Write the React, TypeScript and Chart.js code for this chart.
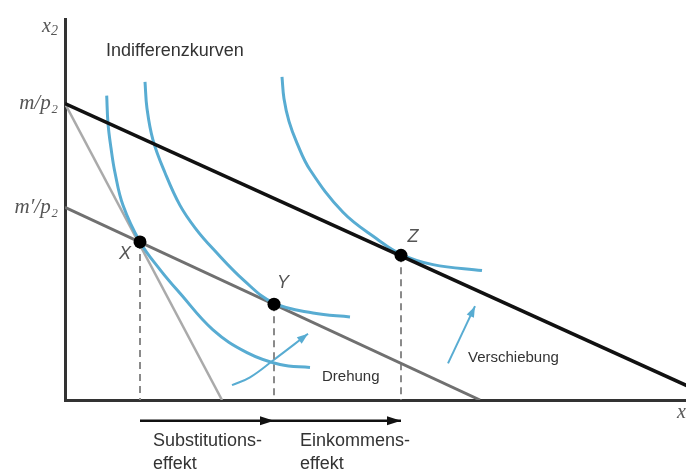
import React, { useEffect, useRef } from "react";
import { Chart, registerables } from "chart.js";

Chart.register(...registerables);

// ---------- data (quantities of good 1 on x, good 2 on y) ----------
const budgetOldX = [0, 3.14];
const budgetOldY = [6.0, 0];
const budgetNewX = [0, 13.07];
const budgetNewY = [6.0, 0];
const budgetCompX = [0, 8.3];
const budgetCompY = [3.9, 0];

const curve1X = [0.834, 0.86, 0.92, 1.0, 1.16, 1.5, 1.9, 2.3, 2.96, 3.64, 4.3, 4.9];
const curve1Y = [6.16, 5.6, 5.1, 4.6, 3.94, 3.2, 2.64, 2.16, 1.42, 0.96, 0.72, 0.66];
const curve2X = [1.6, 1.64, 1.76, 2.0, 2.3, 2.62, 2.96, 3.6, 4.18, 4.96, 5.7];
const curve2Y = [6.44, 5.9, 5.26, 4.6, 3.94, 3.46, 3.06, 2.4, 1.96, 1.76, 1.68];
const curve3X = [4.34, 4.38, 4.48, 4.64, 4.9, 5.56, 6.24, 6.72, 7.36, 8.34];
const curve3Y = [6.54, 6.1, 5.64, 5.2, 4.66, 3.8, 3.26, 2.95, 2.74, 2.62];

const pointNames = ["X", "Y", "Z"];
const pointX = [1.5, 4.18, 6.72];
const pointY = [3.2, 1.94, 2.93];

const yTickValues = [6.0, 3.9];
const yTickLabels = ["m/p\u2082", "m\u2032/p\u2082"];

const drehungX = [3.34, 3.7, 4.16, 4.86];
const drehungY = [0.3, 0.46, 0.8, 1.34];
const verschiebungX = [7.66, 8.2];
const verschiebungY = [0.74, 1.9];
const effectArrowY = -0.42;

const labelTexts = ["Indifferenzkurven", "Drehung", "Verschiebung", "Substitutions-", "effekt", "Einkommens-", "effekt"];
const labelX = [0.82, 5.14, 8.06, 1.76, 1.76, 4.7, 4.7];
const labelY = [7.06, 0.46, 0.86, -0.84, -1.3, -0.84, -1.3];

const pointLabelX = [1.2, 4.36, 6.96];
const pointLabelY = [2.96, 2.36, 3.3];

// ---------- styles ----------
const BLUE = "#58acd2";
const SANS = "'Liberation Sans', Arial, sans-serif";
const SERIF = "'Liberation Serif', 'DejaVu Serif', serif";

const zip = (xs: number[], ys: number[]) => xs.map((x, i) => ({ x, y: ys[i] }));

function drawSub(ctx: CanvasRenderingContext2D, base: string, sub: string, x: number, y: number, alignRight: boolean) {
  ctx.save();
  ctx.fillStyle = "#555";
  ctx.textBaseline = "middle";
  ctx.textAlign = "left";
  const bf = `italic 20px ${SERIF}`;
  const sf = `italic 14px ${SERIF}`;
  ctx.font = bf;
  const bw = ctx.measureText(base).width;
  ctx.font = sf;
  const sw = ctx.measureText(sub).width;
  const x0 = alignRight ? x - bw - sw : x;
  ctx.font = bf;
  ctx.fillText(base, x0, y);
  ctx.font = sf;
  ctx.fillText(sub, x0 + bw, y + 5);
  ctx.restore();
}

const overlay = {
  id: "overlay",
  afterDatasetsDraw(chart: any) {
    const { ctx } = chart;
    const xs = chart.scales.x;
    const ys = chart.scales.y;
    chart.data.datasets.forEach((ds: any, i: number) => {
      if (!ds.arrowHead) return;
      const pts = chart.getDatasetMeta(i).data;
      const end = pts[pts.length - 1];
      const prev = pts[pts.length - 2];
      let fx = prev.x, fy = prev.y;
      if (end.cp1x !== undefined && Math.hypot(end.x - end.cp1x, end.y - end.cp1y) > 0.5) {
        fx = end.cp1x;
        fy = end.cp1y;
      }
      const a = Math.atan2(end.y - fy, end.x - fx);
      const L = ds.arrowHead.length, W = ds.arrowHead.width;
      const bx = end.x - L * Math.cos(a), by = end.y - L * Math.sin(a);
      ctx.save();
      ctx.fillStyle = ds.borderColor;
      ctx.beginPath();
      ctx.moveTo(end.x, end.y);
      ctx.lineTo(bx + (W / 2) * Math.sin(a), by - (W / 2) * Math.cos(a));
      ctx.lineTo(bx - (W / 2) * Math.sin(a), by + (W / 2) * Math.cos(a));
      ctx.closePath();
      ctx.fill();
      ctx.restore();
    });

    ctx.save();
    ctx.textBaseline = "middle";
    ctx.textAlign = "left";
    ctx.fillStyle = "#333";
    labelTexts.forEach((t, i) => {
      ctx.font = i === 1 || i === 2 ? `15px ${SANS}` : `18px ${SANS}`;
      ctx.fillText(t, xs.getPixelForValue(labelX[i]), ys.getPixelForValue(labelY[i]));
    });
    ctx.fillStyle = "#555";
    ctx.textAlign = "center";
    ctx.font = `italic 18px ${SANS}`;
    pointNames.forEach((n, i) => {
      ctx.fillText(n, xs.getPixelForValue(pointLabelX[i]), ys.getPixelForValue(pointLabelY[i]));
    });
    ctx.restore();

    drawSub(ctx, "x", "2", xs.getPixelForValue(-0.14), ys.getPixelForValue(7.56), true);
    drawSub(ctx, "x", "1", xs.getPixelForValue(12.24), ys.getPixelForValue(-0.26), false);
  },
};

export default function App() {
  const ref = useRef<HTMLCanvasElement>(null);
  useEffect(() => {
    if (!ref.current) return;
    const line = (data: any[], color: string, width: number, extra: any = {}) => ({
      data,
      showLine: true,
      borderColor: color,
      backgroundColor: color,
      borderWidth: width,
      pointRadius: 0,
      tension: 0,
      fill: false,
      ...extra,
    });
    const curve = (data: any[]) => line(data, BLUE, 3, { tension: 0.4 });
    const datasets: any[] = [
      {
        data: zip(pointX, pointY),
        showLine: false,
        pointRadius: 6.5,
        pointBorderWidth: 0,
        pointBackgroundColor: "#000",
        backgroundColor: "#000",
      },
      line(zip(budgetNewX, budgetNewY), "#111", 3.5),
      curve(zip(curve1X, curve1Y)),
      curve(zip(curve2X, curve2Y)),
      curve(zip(curve3X, curve3Y)),
      line(zip(budgetCompX, budgetCompY), "#707070", 3),
      line(zip(budgetOldX, budgetOldY), "#aaaaaa", 2.5),
      ...pointX.map((px, i) =>
        line([{ x: px, y: pointY[i] }, { x: px, y: 0 }], "#8a8a8a", 2, { borderDash: [7, 5] })
      ),
      line(zip(drehungX, drehungY), BLUE, 2, { tension: 0.4, arrowHead: { length: 11, width: 8 } }),
      line(zip(verschiebungX, verschiebungY), BLUE, 2, { arrowHead: { length: 11, width: 8 } }),
      line([{ x: pointX[0], y: effectArrowY }, { x: pointX[1], y: effectArrowY }], "#111", 2.5, {
        clip: false,
        arrowHead: { length: 14, width: 9 },
      }),
      line([{ x: pointX[1], y: effectArrowY }, { x: pointX[2], y: effectArrowY }], "#111", 2.5, {
        clip: false,
        arrowHead: { length: 14, width: 9 },
      }),
    ];

    const chart = new Chart(ref.current, {
      type: "scatter",
      data: { datasets },
      options: {
        animation: false,
        responsive: false,
        devicePixelRatio: 1,
        layout: { autoPadding: false, padding: { top: 15, left: 0, right: 0, bottom: 0 } },
        plugins: { legend: { display: false }, tooltip: { enabled: false } },
        events: [],
        scales: {
          x: {
            type: "linear",
            min: 0,
            max: 12.42,
            grid: { display: false, drawTicks: false },
            ticks: { display: false },
            border: { display: true, color: "#333", width: 3 },
            afterFit: (s: any) => {
              s.height = 72;
            },
          },
          y: {
            type: "linear",
            min: 0,
            max: 7.7,
            grid: { display: false, drawTicks: false },
            border: { display: true, color: "#333", width: 3 },
            afterBuildTicks: (s: any) => {
              s.ticks = yTickValues.map((v) => ({ value: v }));
            },
            ticks: {
              autoSkip: false,
              padding: 7,
              color: "#555",
              font: { family: SERIF, style: "italic", size: 21 },
              callback: (v: any) => {
                const i = yTickValues.indexOf(Number(v));
                return i >= 0 ? yTickLabels[i] : "";
              },
            },
            afterFit: (s: any) => {
              s.width = 65;
            },
          },
        },
      },
      plugins: [overlay],
    } as any);
    return () => chart.destroy();
  }, []);

  return (
    <div style={{ position: "absolute", left: 0, top: 0, width: 686, height: 472, background: "#fff" }}>
      <canvas ref={ref} width={686} height={472} style={{ display: "block" }} />
    </div>
  );
}
